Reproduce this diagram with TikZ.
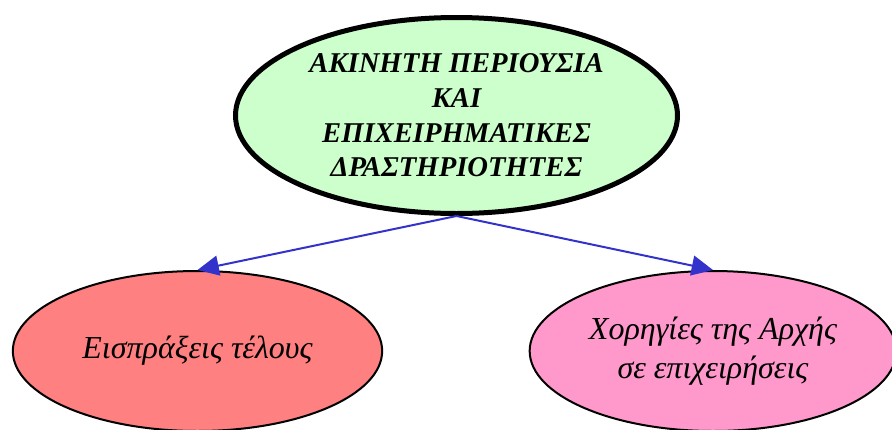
\documentclass[tikz,border=0pt]{standalone}
\usepackage{fontspec}
\setmainfont{Liberation Serif}
\usetikzlibrary{shapes.geometric,arrows.meta}

\begin{document}
\begin{tikzpicture}[x=0.75pt, y=-0.75pt,
    bubble/.style={ellipse, draw=borderColour, inner sep=0pt, align=center},
    link/.style={draw=linkColour, line width=1.5pt, -{Triangle[length=16pt,width=15pt]}}]

    \definecolor{borderColour}{HTML}{000000}
    \definecolor{linkColour}{HTML}{3333CC}
    \definecolor{fillColourTop}{HTML}{CCFFCC}
    \definecolor{fillColourLeft}{HTML}{FF8080}
    \definecolor{fillColourRight}{HTML}{FF99CC}

    % Fix the page size
    \useasboundingbox (0,0) rectangle (892,429);

    % Main node
    \node[bubble, fill=fillColourTop, line width=3.75pt,
          minimum width=331.5pt, minimum height=147pt,
          font=\bfseries\itshape\fontsize{21.5}{26}\selectfont] (estate) at (456.5,115.5)
        {ΑΚΙΝΗΤΗ ΠΕΡΙΟΥΣΙΑ\\ΚΑΙ\\ΕΠΙΧΕΙΡΗΜΑΤΙΚΕΣ\\ΔΡΑΣΤΗΡΙΟΤΗΤΕΣ};

    % Child nodes
    \node[bubble, fill=fillColourLeft, line width=1.5pt,
          minimum width=277pt, minimum height=120pt,
          font=\itshape\fontsize{24}{29}\selectfont] (fees) at (197.5,351)
        {Εισπράξεις τέλους};
    \node[bubble, fill=fillColourRight, line width=1.5pt,
          minimum width=275pt, minimum height=120pt,
          font=\itshape\fontsize{24}{29.5}\selectfont] (grants) at (713,351)
        {Χορηγίες της Αρχής\\σε επιχειρήσεις};

    % Draw links
    \draw[link] (estate.south) -- (fees.north);
    \draw[link] (estate.south) -- (grants.north);

\end{tikzpicture}
\end{document}
